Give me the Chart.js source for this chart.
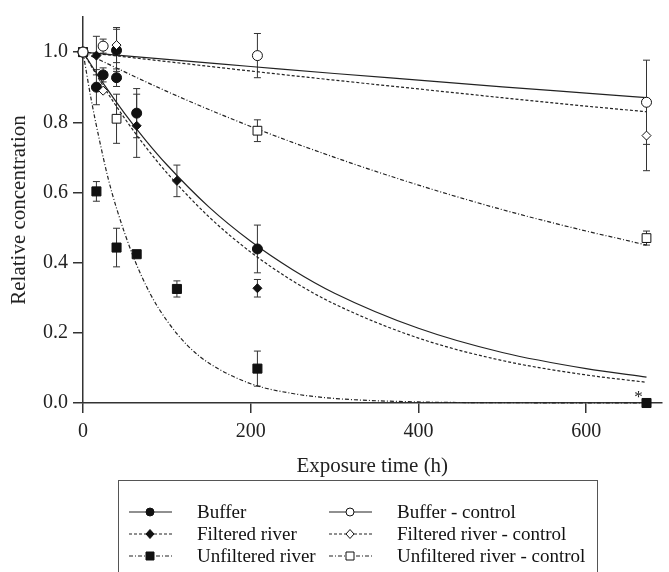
<!DOCTYPE html>
<html>
<head>
<meta charset="utf-8">
<script src="https://cdn.jsdelivr.net/npm/chart.js@4.4.1/dist/chart.umd.min.js"></script>
<style>
  html, body { margin: 0; padding: 0; background: #fff; }
  #wrap { width: 669px; height: 572px; }
</style>
</head>
<body>
<div id="wrap"><canvas id="chart" width="669" height="572"></canvas></div>
<script>
// measured points (time in h, relative concentration, error)
const bufferT = [0, 16, 24, 40, 40, 64, 208];
const bufferC = [1.0, 0.90, 0.935, 0.927, 1.005, 0.826, 0.439];
const bufferE = [0, 0.05, 0.02, 0.025, 0.06, 0.07, 0.068];

const filteredT = [0, 16, 64, 112, 208];
const filteredC = [1.0, 0.99, 0.79, 0.633, 0.327];
const filteredE = [0, 0.055, 0.09, 0.045, 0.025];

const unfilteredT = [0, 16, 40, 64, 112, 208, 672];
const unfilteredC = [1.0, 0.603, 0.443, 0.424, 0.325, 0.098, 0.0];
const unfilteredE = [0, 0.028, 0.055, 0.008, 0.023, 0.05, 0];

const bufferCtrlT = [0, 24, 208, 672];
const bufferCtrlC = [1.0, 1.017, 0.99, 0.857];
const bufferCtrlE = [0, 0.02, 0.063, 0.12];

const filteredCtrlT = [0, 24, 40, 672];
const filteredCtrlC = [1.0, 0.89, 1.02, 0.762];
const filteredCtrlE = [0, 0, 0.05, 0.10];

const unfilteredCtrlT = [0, 40, 208, 672];
const unfilteredCtrlC = [1.0, 0.81, 0.776, 0.47];
const unfilteredCtrlE = [0, 0.07, 0.031, 0.02];

// fitted curves
const fitT = [0, 25, 50, 75, 100, 150, 200, 250, 300, 400, 500, 600, 672];
const bufferFit = [1.0, 0.908, 0.824, 0.748, 0.679, 0.559, 0.461, 0.380, 0.313, 0.213, 0.144, 0.098, 0.074];
const filteredFit = [1.0, 0.900, 0.810, 0.729, 0.656, 0.531, 0.430, 0.348, 0.282, 0.185, 0.121, 0.080, 0.059];

const unfilteredFitT = [0, 10, 20, 30, 40, 60, 80, 100, 125, 150, 200, 250, 300, 400, 500, 672];
const unfilteredFit = [1.0, 0.862, 0.745, 0.640, 0.555, 0.417, 0.312, 0.235, 0.163, 0.114, 0.055, 0.027, 0.013, 0.003, 0.001, 0.0];

const ctrlFitT = [0, 100, 200, 300, 400, 500, 600, 672];
const bufferCtrlFit = [1.0, 0.979, 0.959, 0.939, 0.920, 0.901, 0.883, 0.870];
const filteredCtrlFit = [1.0, 0.973, 0.946, 0.920, 0.895, 0.870, 0.846, 0.830];
const unfilteredCtrlFitT = [0, 100, 200, 300, 400, 500, 600, 640, 672];
const unfilteredCtrlFit = [1.0, 0.888, 0.788, 0.700, 0.621, 0.551, 0.490, 0.468, 0.450];

const xTicks = [0, 200, 400, 600];
const yTicks = [0, 0.2, 0.4, 0.6, 0.8, 1.0];

const INK = '#222';
const SERIF = '"Liberation Serif", "DejaVu Serif", serif';

const DOTTED = [3, 2];
const DASHDOT = [4, 2, 1, 2];

function pts(xs, ys) {
    return xs.map((x, i) => ({ x: x, y: ys[i] }));
}

function fitLine(xs, ys, dash) {
    return {
        type: 'line',
        data: pts(xs, ys),
        borderColor: INK,
        borderWidth: 1.2,
        borderDash: dash,
        pointRadius: 0,
        cubicInterpolationMode: 'monotone',
        fill: false,
        clip: false,
        order: 2
    };
}

function marks(label, xs, ys, errs, style, filled, radius) {
    return {
        type: 'scatter',
        label: label,
        data: pts(xs, ys),
        errors: errs,
        pointStyle: style,
        pointRadius: radius,
        pointHoverRadius: radius,
        pointBackgroundColor: filled ? '#111' : '#fff',
        pointBorderColor: '#111',
        pointBorderWidth: 1,
        clip: false,
        order: 1
    };
}

// legend entries: [label, dash, pointStyle, filled]
const legendItems = [
    ['Buffer', [], 'circle', true],
    ['Filtered river', DOTTED, 'diamond', true],
    ['Unfiltered river', DASHDOT, 'square', true],
    ['Buffer - control', [], 'circle', false],
    ['Filtered river - control', DOTTED, 'diamond', false],
    ['Unfiltered river - control', DASHDOT, 'square', false]
];

function drawMarker(ctx, style, filled, x, y) {
    ctx.save();
    ctx.beginPath();
    if (style === 'circle') {
        ctx.arc(x, y, 4, 0, Math.PI * 2);
    } else if (style === 'square') {
        ctx.rect(x - 4, y - 4, 8, 8);
    } else {
        ctx.moveTo(x, y - 4.5);
        ctx.lineTo(x + 4, y);
        ctx.lineTo(x, y + 4.5);
        ctx.lineTo(x - 4, y);
        ctx.closePath();
    }
    ctx.fillStyle = filled ? '#111' : '#fff';
    ctx.fill();
    ctx.lineWidth = 1;
    ctx.strokeStyle = '#111';
    ctx.stroke();
    ctx.restore();
}

const errorBars = {
    id: 'errorBars',
    beforeDatasetsDraw(chart) {
        const ctx = chart.ctx;
        const xs = chart.scales.x, ys = chart.scales.y;
        ctx.save();
        ctx.strokeStyle = '#333';
        ctx.lineWidth = 1;
        chart.data.datasets.forEach(ds => {
            if (!ds.errors) return;
            ds.data.forEach((p, i) => {
                const e = ds.errors[i];
                if (!e) return;
                const px = xs.getPixelForValue(p.x);
                const top = ys.getPixelForValue(p.y + e);
                const bot = ys.getPixelForValue(p.y - e);
                ctx.beginPath();
                ctx.moveTo(px, top); ctx.lineTo(px, bot);
                ctx.moveTo(px - 3.5, top); ctx.lineTo(px + 3.5, top);
                ctx.moveTo(px - 3.5, bot); ctx.lineTo(px + 3.5, bot);
                ctx.stroke();
            });
        });
        ctx.restore();
    },
    afterDraw(chart) {
        const ctx = chart.ctx;
        const xs = chart.scales.x, ys = chart.scales.y;
        // significance mark next to the last unfiltered river point
        ctx.save();
        ctx.fillStyle = '#222';
        ctx.font = '17px ' + SERIF;
        ctx.textAlign = 'center';
        ctx.textBaseline = 'middle';
        ctx.fillText('*', xs.getPixelForValue(672) - 8, ys.getPixelForValue(0) - 5);

        // boxed legend, two columns
        ctx.strokeStyle = '#555';
        ctx.lineWidth = 1;
        ctx.strokeRect(118.5, 480.5, 479, 100);
        ctx.font = '19px ' + SERIF;
        ctx.textAlign = 'left';
        ctx.fillStyle = '#111';
        legendItems.forEach((it, i) => {
            const col = Math.floor(i / 3), row = i % 3;
            const x0 = col === 0 ? 129 : 329;
            const y = 512 + row * 22;
            ctx.save();
            ctx.strokeStyle = INK;
            ctx.lineWidth = 1.2;
            ctx.setLineDash(it[1]);
            ctx.beginPath();
            ctx.moveTo(x0, y); ctx.lineTo(x0 + 43, y);
            ctx.stroke();
            ctx.restore();
            drawMarker(ctx, it[2], it[3], x0 + 21, y);
            ctx.fillText(it[0], col === 0 ? 197 : 397, y + 1);
        });
        ctx.restore();
    }
};

new Chart(document.getElementById('chart'), {
    data: {
        datasets: [
            fitLine(fitT, bufferFit, []),
            fitLine(fitT, filteredFit, DOTTED),
            fitLine(unfilteredFitT, unfilteredFit, DASHDOT),
            fitLine(ctrlFitT, bufferCtrlFit, []),
            fitLine(ctrlFitT, filteredCtrlFit, DOTTED),
            fitLine(unfilteredCtrlFitT, unfilteredCtrlFit, DASHDOT),
            marks('Buffer - control', bufferCtrlT, bufferCtrlC, bufferCtrlE, 'circle', false, 5),
            marks('Filtered river - control', filteredCtrlT, filteredCtrlC, filteredCtrlE, 'rectRot', false, 4.5),
            marks('Unfiltered river - control', unfilteredCtrlT, unfilteredCtrlC, unfilteredCtrlE, 'rect', false, 6.2),
            marks('Filtered river', filteredT, filteredC, filteredE, 'rectRot', true, 4.5),
            marks('Buffer', bufferT, bufferC, bufferE, 'circle', true, 5),
            marks('Unfiltered river', unfilteredT, unfilteredC, unfilteredE, 'rect', true, 6.4)
        ]
    },
    options: {
        responsive: false,
        animation: false,
        events: [],
        layout: { padding: { top: 13, right: 0, bottom: 93, left: 0 } },
        plugins: { legend: { display: false }, tooltip: { enabled: false } },
        scales: {
            x: {
                type: 'linear',
                min: 0,
                max: 690,
                afterBuildTicks: s => { s.ticks = xTicks.map(v => ({ value: v })); },
                afterFit: s => { s.height = 76; },
                border: { display: true, color: '#333', width: 1.5 },
                grid: { drawOnChartArea: false, drawTicks: true, tickLength: 10, color: '#333', lineWidth: 1.5 },
                ticks: { color: '#222', font: { family: SERIF, size: 20 }, padding: 7, maxRotation: 0 },
                title: { display: true, text: 'Exposure time (h)', color: '#222', font: { family: SERIF, size: 21 }, padding: 0 }
            },
            y: {
                type: 'linear',
                min: 0,
                max: 1.1,
                afterBuildTicks: s => { s.ticks = yTicks.map(v => ({ value: v })); },
                afterFit: s => { s.width = 83; },
                border: { display: true, color: '#333', width: 1.5 },
                grid: { drawOnChartArea: false, drawTicks: true, tickLength: 10, color: '#333', lineWidth: 1.5 },
                ticks: { color: '#222', font: { family: SERIF, size: 20 }, padding: 5, callback: v => v.toFixed(1) },
                title: { display: true, text: 'Relative concentration', color: '#222', font: { family: SERIF, size: 21 }, padding: { top: 7, bottom: 0 } }
            }
        }
    },
    plugins: [errorBars]
});
</script>
</body>
</html>
